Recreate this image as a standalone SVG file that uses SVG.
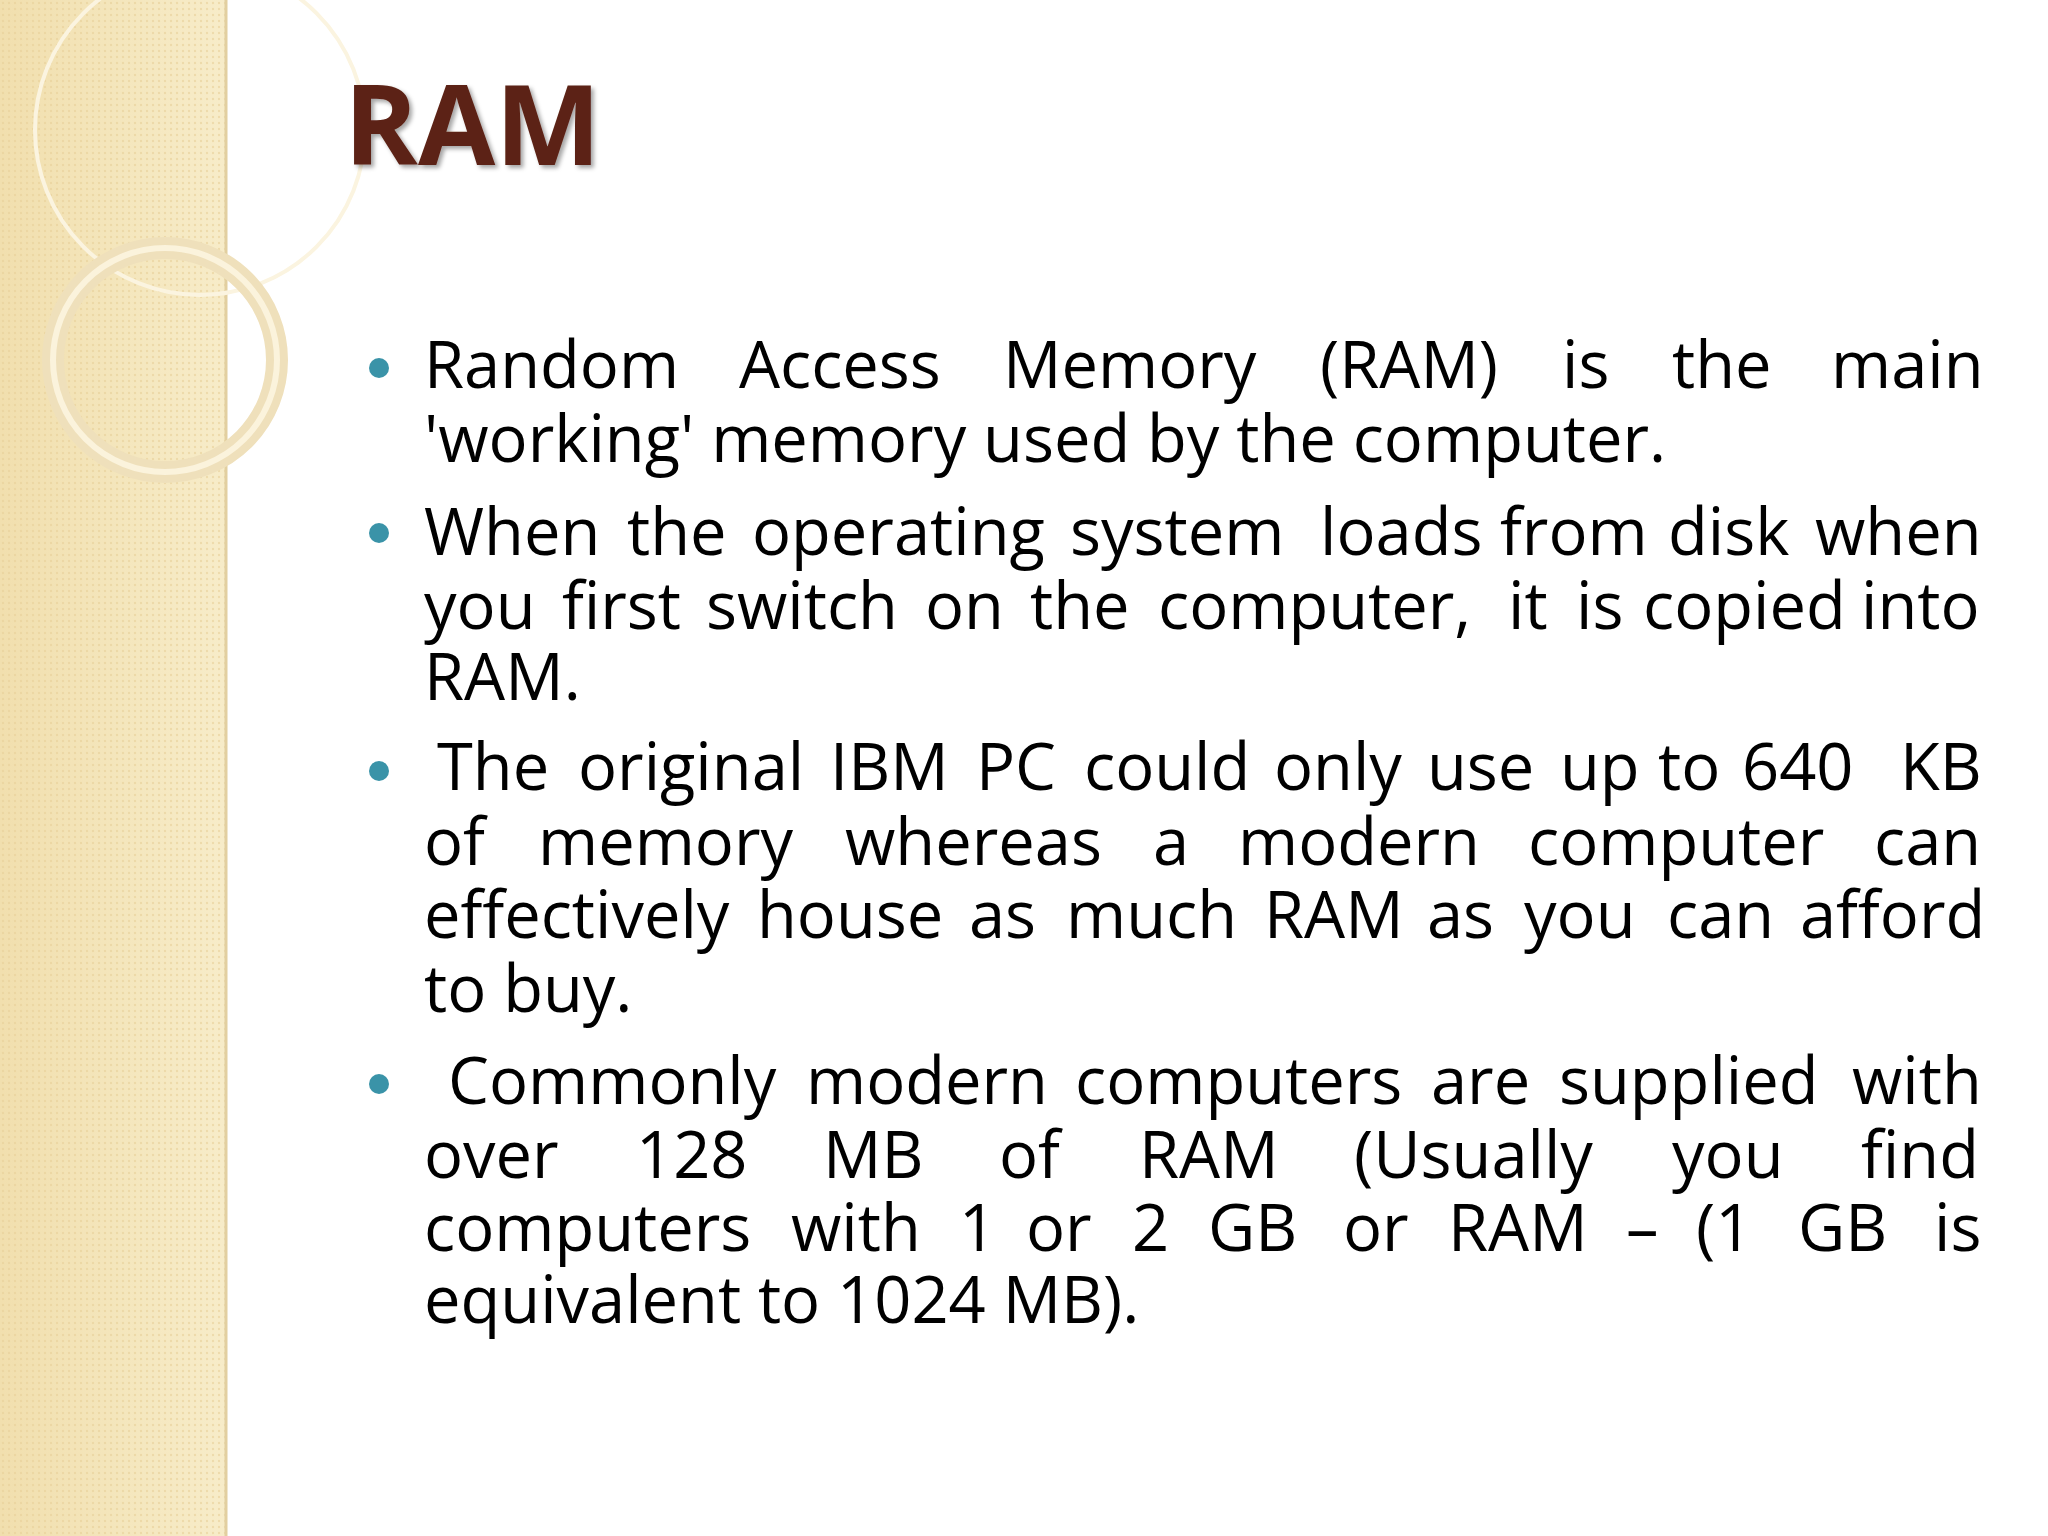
<svg xmlns="http://www.w3.org/2000/svg" width="2048" height="1536" viewBox="0 0 2048 1536">
<defs>
<linearGradient id="strip" x1="0" y1="0" x2="1" y2="0"><stop offset="0" stop-color="#f1dfae"/><stop offset="1" stop-color="#f7ecc9"/></linearGradient>
<pattern id="dots" width="6" height="6" patternUnits="userSpaceOnUse"><circle cx="3" cy="3" r="1.2" fill="#e6cf98" opacity="0.6"/></pattern>
<filter id="sh"><feDropShadow dx="3" dy="3" stdDeviation="2" flood-color="#000" flood-opacity="0.35"/></filter>
</defs>
<style>
.b{font-family:"Open Sans","Liberation Sans",sans-serif;font-size:65px;fill:#000}
.dot{fill:#3a93a8}
</style>
<rect width="2048" height="1536" fill="#fff"/>
<g id="strip-bg">
<rect width="226" height="1536" fill="url(#strip)"/>
<rect width="226" height="1536" fill="url(#dots)"/>
<line x1="226" y1="0" x2="226" y2="1536" stroke="#e2cfa0" stroke-width="3"/>
<circle cx="200" cy="130" r="165" fill="none" stroke="#fbf4e0" stroke-width="4"/>
<circle cx="165" cy="360" r="112" fill="none" stroke="#efe0bb" stroke-width="22"/>
<circle cx="165" cy="360" r="112" fill="none" stroke="#fbf3dc" stroke-width="6"/>
</g>
<g id="title"><text x="344" y="165" font-family="Open Sans,Liberation Sans,sans-serif" font-weight="bold" font-size="112" fill="#5c2417" filter="url(#sh)">RAM</text></g>
<g id="bullets">
<circle class="dot" cx="379" cy="368" r="10"/>
<circle class="dot" cx="379" cy="533" r="10"/>
<circle class="dot" cx="379" cy="771" r="10"/>
<circle class="dot" cx="379" cy="1084" r="10"/>
</g>
<g id="body">
<text class="b" y="388"><tspan x="424">Random</tspan><tspan x="739">Access</tspan><tspan x="1003">Memory</tspan><tspan x="1320">(RAM)</tspan><tspan x="1562">is</tspan><tspan x="1672">the</tspan><tspan x="1831">main</tspan></text>
<text class="b" x="424" y="462">'working' memory used by the computer.</text>
<text class="b" y="555"><tspan x="424">When</tspan><tspan x="627">the</tspan><tspan x="752">operating</tspan><tspan x="1070">system</tspan><tspan x="1320">loads</tspan><tspan x="1500">from</tspan><tspan x="1668">disk</tspan><tspan x="1815">when</tspan></text>
<text class="b" y="629"><tspan x="424">you</tspan><tspan x="562">first</tspan><tspan x="706">switch</tspan><tspan x="925">on</tspan><tspan x="1030">the</tspan><tspan x="1158">computer,</tspan><tspan x="1508">it</tspan><tspan x="1576">is</tspan><tspan x="1643">copied</tspan><tspan x="1861">into</tspan></text>
<text class="b" x="424" y="700">RAM.</text>
<text class="b" y="790"><tspan x="437">The</tspan><tspan x="578">original</tspan><tspan x="830">IBM</tspan><tspan x="976">PC</tspan><tspan x="1084">could</tspan><tspan x="1274">only</tspan><tspan x="1427">use</tspan><tspan x="1560">up</tspan><tspan x="1658">to</tspan><tspan x="1742">640</tspan><tspan x="1900">KB</tspan></text>
<text class="b" y="865"><tspan x="424">of</tspan><tspan x="538">memory</tspan><tspan x="845">whereas</tspan><tspan x="1153">a</tspan><tspan x="1238">modern</tspan><tspan x="1528">computer</tspan><tspan x="1874">can</tspan></text>
<text class="b" y="938"><tspan x="424">effectively</tspan><tspan x="757">house</tspan><tspan x="969">as</tspan><tspan x="1066">much</tspan><tspan x="1264">RAM</tspan><tspan x="1427">as</tspan><tspan x="1524">you</tspan><tspan x="1667">can</tspan><tspan x="1800">afford</tspan></text>
<text class="b" x="424" y="1012">to buy.</text>
<text class="b" y="1104"><tspan x="448">Commonly</tspan><tspan x="806">modern</tspan><tspan x="1075">computers</tspan><tspan x="1431">are</tspan><tspan x="1559">supplied</tspan><tspan x="1852">with</tspan></text>
<text class="b" y="1178"><tspan x="424">over</tspan><tspan x="636">128</tspan><tspan x="823">MB</tspan><tspan x="999">of</tspan><tspan x="1139">RAM</tspan><tspan x="1354">(Usually</tspan><tspan x="1672">you</tspan><tspan x="1861">find</tspan></text>
<text class="b" y="1251"><tspan x="424">computers</tspan><tspan x="791">with</tspan><tspan x="959">1</tspan><tspan x="1026">or</tspan><tspan x="1132">2</tspan><tspan x="1208">GB</tspan><tspan x="1343">or</tspan><tspan x="1448">RAM</tspan><tspan x="1626">–</tspan><tspan x="1696">(1</tspan><tspan x="1798">GB</tspan><tspan x="1934">is</tspan></text>
<text class="b" x="424" y="1323">equivalent to 1024 MB).</text>
</g>
</svg>
